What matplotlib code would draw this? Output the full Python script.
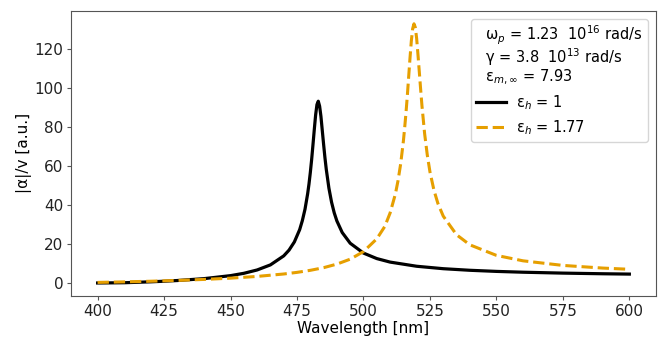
import matplotlib
matplotlib.use("Agg")
import matplotlib.pyplot as plt

# Wavelength grid (nm) and |alpha|/V values
wl_black = [400, 410, 420, 425, 430, 440, 450, 455, 460, 465, 470, 472, 474, 476,
            477, 478, 479, 479.5, 480, 480.5, 481, 481.5, 482, 482.5, 483, 483.5,
            484, 484.5, 485, 485.5, 486, 487, 488, 489, 490, 492,
            495, 500, 505, 510, 520, 530, 540, 550, 560, 575, 590, 600]
alpha_black = [0.12, 0.25, 0.72, 1.02, 1.38, 2.34, 3.88, 5.07, 6.78, 9.38, 13.98, 16.93,
               21.11, 27.42, 32.0, 37.80, 45.75, 50.7, 56.55, 63.2, 70.76, 78.6, 86.04,
               91.37, 93.10, 90.6, 85.35, 78.2, 71.10, 64.3, 58.34, 48.62, 41.42, 36.0,
               31.85, 25.94, 20.46, 15.42, 12.61, 10.81,
               8.68, 7.43, 6.62, 6.05, 5.63, 5.17, 4.84, 4.67]

wl_orange = [400, 410, 420, 425, 430, 440, 450, 460, 470, 475, 480, 485, 490, 495,
             500, 505, 508, 510, 512, 513, 514, 515, 515.5, 516, 516.5, 517, 517.5,
             518, 518.5, 519, 519.5, 520, 520.5, 521, 521.5, 522, 523, 524, 525,
             526.5, 528, 530, 535, 540, 550, 560, 575, 590, 600]
alpha_orange = [0.42, 0.69, 1.02, 1.22, 1.43, 1.94, 2.59, 3.48, 4.72, 5.55, 6.60, 7.95,
                9.78, 12.30, 16.17, 22.70, 29.0, 35.86, 45.62, 52.5, 61.17, 72.57, 79.6,
                87.35, 96.0, 105.6, 115.2, 123.9, 130.2, 132.7, 130.85, 125.2, 116.9,
                108.1, 99.2, 90.72, 76.50, 65.6, 57.00, 47.6, 40.80,
                34.33, 24.80, 19.65, 14.24, 11.46, 9.11, 7.75, 7.13]

label_black = r"ε$_h$ = 1"
label_orange = r"ε$_h$ = 1.77"
legend_title = ("  ω$_p$ = 1.23  10$^{16}$ rad/s\n"
                "  γ = 3.8  10$^{13}$ rad/s\n"
                r"  ε$_{m,\infty}$ = 7.93")

plt.rcParams['font.family'] = ['DejaVu Sans']
plt.rcParams['font.size'] = 11

fig = plt.figure(figsize=(6.70, 3.39), dpi=100)
ax = fig.add_axes([0.106, 0.127, 0.873, 0.841])

ax.plot(wl_black, alpha_black, color='black', lw=2.3, label=label_black)
ax.plot(wl_orange, alpha_orange, color='#E69F00', lw=2.2, ls='--', label=label_orange)

ax.set_xticks([400, 425, 450, 475, 500, 525, 550, 575, 600])
ax.set_yticks([0, 20, 40, 60, 80, 100, 120])
ax.set_xlabel("Wavelength [nm]", labelpad=2)
ax.set_ylabel("|α|/v [a.u.]", labelpad=1.5)

for s in ax.spines.values():
    s.set_color('#555555')
ax.tick_params(colors='#555555', labelcolor='#222222', length=3, pad=2.5)

leg = ax.legend(loc='upper right', title=legend_title, alignment='left',
                title_fontsize=10.5, fontsize=10.5, labelspacing=0.45,
                borderpad=0.35, handletextpad=0.7, borderaxespad=0.55)
leg.get_title().set_linespacing(0.95)

fig.savefig("out.png", dpi=100)
